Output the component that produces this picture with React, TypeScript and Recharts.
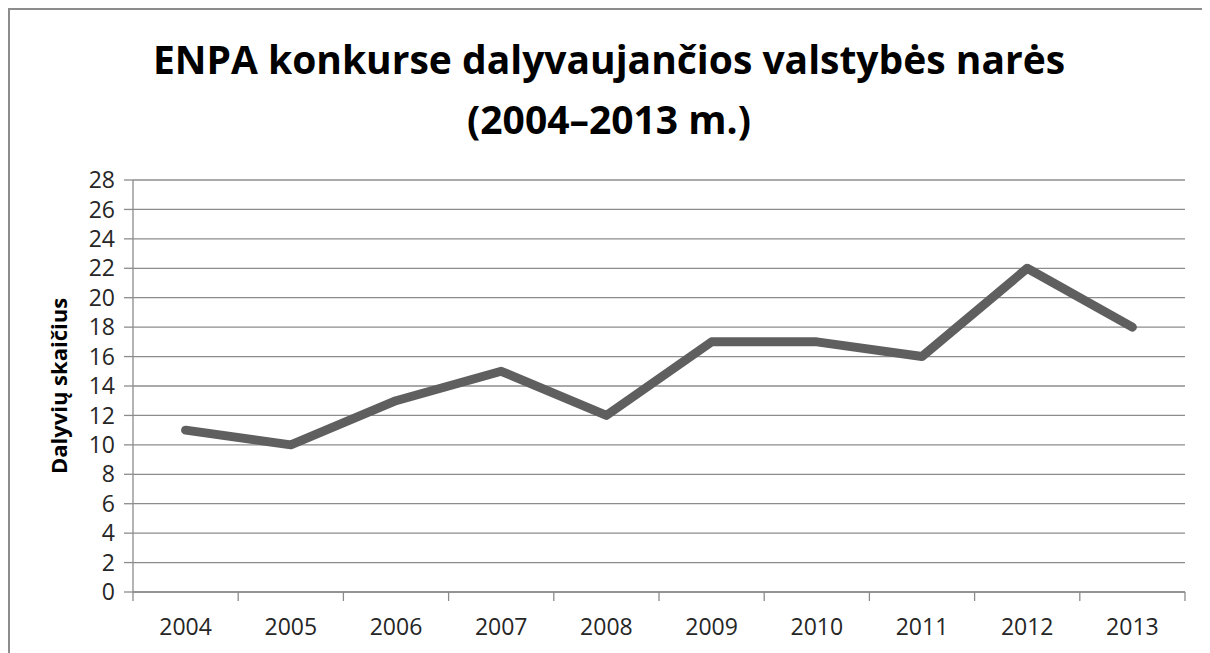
import { CartesianGrid, Line, LineChart, XAxis, YAxis } from "recharts";

const years = ["2004", "2005", "2006", "2007", "2008", "2009", "2010", "2011", "2012", "2013"];
const participants = [11, 10, 13, 15, 12, 17, 17, 16, 22, 18];
const yTicks = [0, 2, 4, 6, 8, 10, 12, 14, 16, 18, 20, 22, 24, 26, 28];

// x ticks: category boundaries (i - 0.5) get a tick mark, category centres (i) get the year
const xTicks = years.flatMap((_, i) => [i - 0.5, i]).concat(years.length - 0.5);

const data = years.map((year, i) => ({ i, year, value: participants[i] }));

const FONT = "'Open Sans', sans-serif";
const GRID = "#8c8c8c";
const TEXT = "#262626";

function XTick({ x, y, payload }: any) {
  const v = payload.value as number;
  if (Number.isInteger(v)) {
    return (
      <text x={x} y={y + 43} textAnchor="middle" fontFamily={FONT} fontSize={23} fill={TEXT}>
        {years[v]}
      </text>
    );
  }
  return <line x1={x} x2={x} y1={y} y2={y + 9} stroke={GRID} strokeWidth={1.3} />;
}

export default function App() {
  return (
    <div style={{ position: "relative", width: 1202, height: 645, fontFamily: FONT }}>
      {/* frame of the original picture: only its top and left edges show */}
      <div style={{ position: "absolute", left: 0, top: 0, width: 1202, height: 2, background: GRID }} />
      <div style={{ position: "absolute", left: 0, top: 0, width: 2, height: 645, background: GRID }} />
      <div
        style={{
          position: "absolute",
          left: 0,
          top: 21,
          width: 1202,
          textAlign: "center",
          fontWeight: 700,
          fontSize: 39,
          lineHeight: "60px",
          color: "#000",
        }}
      >
        ENPA konkurse dalyvaujančios valstybės narės
        <br />
        (2004–2013 m.)
      </div>
      <LineChart width={1194} height={640} data={data} margin={{ top: 172, right: 17, bottom: 0, left: 0 }}>
        <CartesianGrid vertical={false} stroke={GRID} strokeWidth={1.3} />
        <XAxis
          dataKey="i"
          type="number"
          domain={[-0.5, years.length - 0.5]}
          ticks={xTicks}
          interval={0}
          tick={<XTick />}
          tickLine={false}
          tickSize={0}
          tickMargin={0}
          height={56}
          stroke={GRID}
          strokeWidth={1.3}
        />
        <YAxis
          domain={[0, 28]}
          ticks={yTicks}
          interval={0}
          width={125}
          tickSize={9}
          tickMargin={9}
          stroke={GRID}
          strokeWidth={1.3}
          tick={{ fill: TEXT, fontSize: 23, fontFamily: FONT }}
          label={{
            content: ({ viewBox }: any) => {
              const cx = 50;
              const cy = viewBox.y + viewBox.height / 2;
              return (
                <text
                  x={cx}
                  y={cy}
                  transform={`rotate(-90, ${cx}, ${cy})`}
                  textAnchor="middle"
                  dominantBaseline="central"
                  fontFamily={FONT}
                  fontWeight={700}
                  fontSize={22}
                  fill="#000"
                >
                  Dalyvių skaičius
                </text>
              );
            },
          }}
        />
        <Line
          dataKey="value"
          type="linear"
          stroke="#5f5f5f"
          strokeWidth={9}
          strokeLinecap="round"
          strokeLinejoin="round"
          dot={false}
          activeDot={false}
          isAnimationActive={false}
        />
      </LineChart>
    </div>
  );
}
